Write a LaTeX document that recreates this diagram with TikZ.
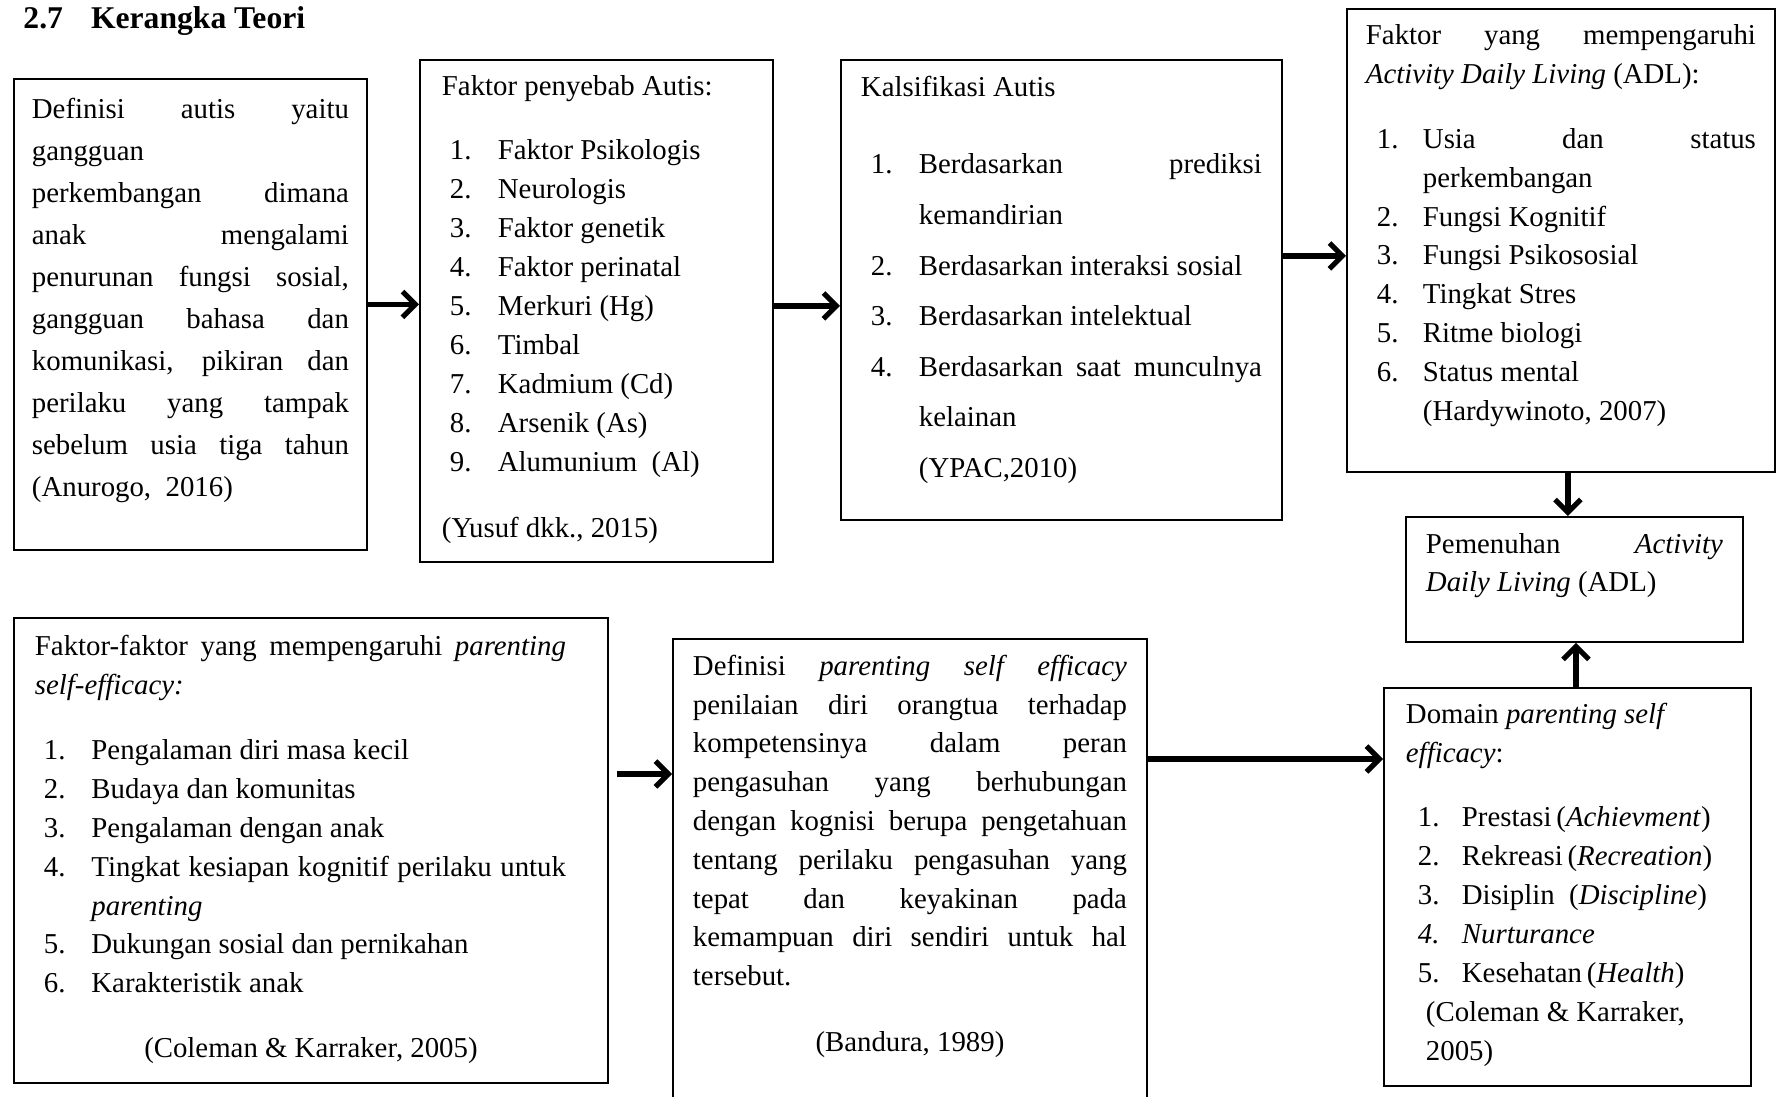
\documentclass[tikz,border=0pt]{standalone}
\usepackage{fontspec}
\setmainfont{Liberation Serif}
\usetikzlibrary{arrows.meta, calc}
% satuan: 1 piksel gambar
\newdimen\px
\px=0.015cm
\newlength{\kiri}
\newlength{\jeda}
\newcommand{\rata}[2][\linewidth]{\par\hbox to #1{#2}}
\newcommand{\baris}[1]{\par\hbox to \linewidth{#1\hfil}}
\newcommand{\butir}[2]{\par\hbox to \linewidth{\hspace*{\kiri}\hbox to \dimexpr\jeda-\kiri\relax{#1\hfil}#2\hfil}}
\newcommand{\butirrata}[3][\linewidth]{\par\hbox to #1{\hspace*{\kiri}\hbox to \dimexpr\jeda-\kiri\relax{#2\hfil}#3}}
\newcommand{\lanjut}[1]{\par\hbox to \linewidth{\hspace*{\jeda}#1\hfil}}
\newcommand{\isi}[4]{%
\begin{minipage}[t][#2\px][t]{#1\px}\fontsize{12.3}{#3\px}\selectfont\setlength{\parskip}{0pt}#4\end{minipage}}

\begin{document}
\begin{tikzpicture}[x=0.015cm, y=-0.015cm,
    kotak/.style = {draw, line width=0.8pt, fill=white, anchor=north west, inner sep=0pt},
    panah/.style = {line width=2.2pt, -{Straight Barb[length=5.5pt,width=11pt]}}]
    % Parameter
    \useasboundingbox (0,0) rectangle (1776,1097);
    \clip (0,0) rectangle (1776,1097);
    % Judul
    \node[anchor=base west, inner sep=0pt, font=\bfseries\fontsize{13.5}{16}\selectfont] (judul) at (23,29) {2.7\hspace{28\px}Kerangka Teori};
    % Kotak baris atas
    \node[kotak, inner xsep=18\px, inner ysep=19\px] (definisi) at (13,78) {\isi{317}{433}{42}{%
        \rata{Definisi autis yaitu}
        \baris{gangguan}
        \rata{perkembangan dimana}
        \rata{anak mengalami}
        \rata{penurunan fungsi sosial,}
        \rata{gangguan bahasa dan}
        \rata{komunikasi, pikiran dan}
        \rata{perilaku yang tampak}
        \rata{sebelum usia tiga tahun}
        \baris{(Anurogo,~ 2016)}}};
    \node[kotak, inner xsep=22\px, inner ysep=16\px] (penyebab) at (419,59) {\isi{309}{470}{39}{%
        \setlength{\kiri}{8\px}\setlength{\jeda}{56\px}%
        \baris{Faktor penyebab Autis:}
        \vspace{25\px}
        \butir{1.}{Faktor Psikologis}
        \butir{2.}{Neurologis}
        \butir{3.}{Faktor genetik}
        \butir{4.}{Faktor perinatal}
        \butir{5.}{Merkuri (Hg)}
        \butir{6.}{Timbal}
        \butir{7.}{Kadmium (Cd)}
        \butir{8.}{Arsenik (As)}
        \butir{9.}{Alumunium~ (Al)}
        \vspace{27\px}
        \baris{(Yusuf dkk., 2015)}}};
    \node[kotak, inner xsep=20\px, inner ysep=16\px] (klasifikasi) at (840,59) {\isi{401}{428}{50.6}{%
        \setlength{\kiri}{10\px}\setlength{\jeda}{58\px}%
        \baris{Kalsifikasi Autis}
        \vspace{27\px}
        \butirrata{1.}{Berdasarkan prediksi}
        \lanjut{kemandirian}
        \butir{2.}{Berdasarkan interaksi sosial}
        \butir{3.}{Berdasarkan intelektual}
        \butirrata{4.}{Berdasarkan saat munculnya}
        \lanjut{kelainan}
        \lanjut{(YPAC,2010)}}};
    \node[kotak, inner xsep=19\px, inner ysep=16\px] (faktoradl) at (1346,8) {\isi{390}{431}{38.8}{%
        \setlength{\kiri}{11\px}\setlength{\jeda}{57\px}%
        \rata{Faktor yang mempengaruhi}
        \baris{\textit{Activity Daily Living} (ADL):}
        \vspace{26\px}
        \butirrata{1.}{Usia dan status}
        \lanjut{perkembangan}
        \butir{2.}{Fungsi Kognitif}
        \butir{3.}{Fungsi Psikososial}
        \butir{4.}{Tingkat Stres}
        \butir{5.}{Ritme biologi}
        \butir{6.}{Status mental}
        \lanjut{(Hardywinoto, 2007)}}};
    \node[kotak, inner xsep=20\px, inner ysep=17\px] (pemenuhan) at (1405,516) {\isi{297}{91}{37.5}{%
        \rata{Pemenuhan \textit{Activity}}
        \baris{\textit{Daily Living} (ADL)}}};
    % Kotak baris bawah
    \node[kotak, inner xsep=21\px, inner ysep=17\px] (faktorpse) at (13,617) {\isi{552}{431}{38.8}{%
        \setlength{\kiri}{9\px}\setlength{\jeda}{56.5\px}%
        \rata[531\px]{Faktor-faktor yang mempengaruhi \textit{parenting}}
        \baris{\textit{self-efficacy:}}
        \vspace{27\px}
        \butir{1.}{Pengalaman diri masa kecil}
        \butir{2.}{Budaya dan komunitas}
        \butir{3.}{Pengalaman dengan anak}
        \butirrata[531\px]{4.}{Tingkat kesiapan kognitif perilaku untuk}
        \lanjut{\textit{parenting}}
        \butir{5.}{Dukungan sosial dan pernikahan}
        \butir{6.}{Karakteristik anak}
        \vspace{26\px}
        \rata{\hfil(Coleman \& Karraker, 2005)\hfil}}};
    \node[kotak, inner xsep=20\px, inner ysep=16\px] (definisipse) at (672,638) {\isi{434}{448}{38.8}{%
        \rata{Definisi \textit{parenting self efficacy}}
        \rata{penilaian diri orangtua terhadap}
        \rata{kompetensinya dalam peran}
        \rata{pengasuhan yang berhubungan}
        \rata{dengan kognisi berupa pengetahuan}
        \rata{tentang perilaku pengasuhan yang}
        \rata{tepat dan keyakinan pada}
        \rata{kemampuan diri sendiri untuk hal}
        \baris{tersebut.}
        \vspace{27\px}
        \rata{\hfil(Bandura, 1989)\hfil}}};
    \node[kotak, inner xsep=22\px, inner ysep=15.5\px] (domain) at (1383,687) {\isi{323}{367}{39}{%
        \setlength{\kiri}{12\px}\setlength{\jeda}{56\px}%
        \baris{Domain \textit{parenting self}}
        \baris{\textit{efficacy}:}
        \vspace{25\px}
        \butir{1.}{Prestasi\,(\textit{Achievment})}
        \butir{2.}{Rekreasi\,(\textit{Recreation})}
        \butir{3.}{Disiplin~ (\textit{Discipline})}
        \butir{\textit{4.}}{\textit{Nurturance}}
        \butir{5.}{Kesehatan\,(\textit{Health})}
        \baris{\hspace*{20\px}(Coleman \& Karraker,}
        \baris{\hspace*{20\px}2005)}}};
    % Panah
    \coordinate (ujungFG) at ([yshift=-136\px]definisipse.north west);
    \coordinate (ujungGH) at ([yshift=-72\px]domain.north west);
    \draw[panah] ([yshift=10\px]definisi.east) -- ([yshift=10\px]definisi.east -| penyebab.west);
    \draw[panah] ([yshift=5\px]penyebab.east) -- ([yshift=5\px]penyebab.east -| klasifikasi.west);
    \draw[panah] ([yshift=34\px]klasifikasi.east) -- ([yshift=34\px]klasifikasi.east -| faktoradl.west);
    \draw[panah] ([xshift=7\px]faktoradl.south) -- ([xshift=7\px]faktoradl.south |- pemenuhan.north);
    \draw[panah] ([xshift=8.5\px]domain.north) -- ([xshift=8.5\px]domain.north |- pemenuhan.south);
    \draw[panah] ($(faktorpse.east |- ujungFG)+(8,0)$) -- (ujungFG);
    \draw[panah] (definisipse.east |- ujungGH) -- (ujungGH);
\end{tikzpicture}
\end{document}
